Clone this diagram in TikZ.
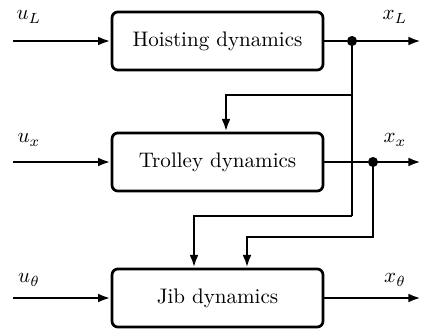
\documentclass[tikz,border=0pt]{standalone}
\usetikzlibrary{arrows.meta}
\begin{document}
\begin{tikzpicture}[x=0.475pt,y=-0.475pt,
  blk/.style={draw,line width=1.3pt,rounded corners=2.8pt,minimum width=100.2pt,minimum height=27.6pt,inner sep=0pt},
  conn/.style={line width=1.3pt},
  arr/.style={conn,-{Latex[length=6pt,width=4.2pt]}},
  dotn/.style={circle,fill,inner sep=0pt,minimum size=4.8pt},
  lbl/.style={inner sep=0pt}]
\useasboundingbox (0,0) rectangle (422,329);
\node[blk] (hoist) at (217.5,41) {Hoisting dynamics};
\node[blk] (trol) at (217.5,162) {Trolley dynamics};
\node[blk] (jib) at (217.5,298) {Jib dynamics};
% inputs
\coordinate (in1) at (13,41);
\coordinate (in2) at (13,162);
\coordinate (in3) at (13,298);
\coordinate (out1) at (421,41);
\coordinate (out2) at (421,162);
\coordinate (out3) at (421,298);
\node[dotn] (d1) at (352,41) {};
\node[dotn] (d2) at (373,162) {};
\coordinate (b1) at (352,95);
\coordinate (b2) at (352,216);
\coordinate (b3) at (373,237);
\draw[arr] (in1) -- (hoist);
\draw[arr] (in2) -- (trol);
\draw[arr] (in3) -- (jib);
\draw[conn] (hoist) -- (d1);
\draw[arr] (d1) -- (out1);
\draw[conn] (trol) -- (d2);
\draw[arr] (d2) -- (out2);
\draw[arr] (jib) -- (out3);
\draw[conn] (d1.center) -- (b2);
\draw[arr] (b1) -| (226,0 |- trol.north);
\draw[arr] (b2) -| (194,0 |- jib.north);
\draw[arr] (d2.center) |- (b3) -| (247,0 |- jib.north);
% labels
\node[lbl] (uL) at (29,17) {$u_L$};
\node[lbl] (xL) at (395,17) {$x_L$};
\node[lbl] (ux) at (29,140) {$u_x$};
\node[lbl] (xx) at (395,140) {$x_x$};
\node[lbl] (ut) at (29,280) {$u_\theta$};
\node[lbl] (xt) at (395,280) {$x_\theta$};
\end{tikzpicture}
\end{document}
